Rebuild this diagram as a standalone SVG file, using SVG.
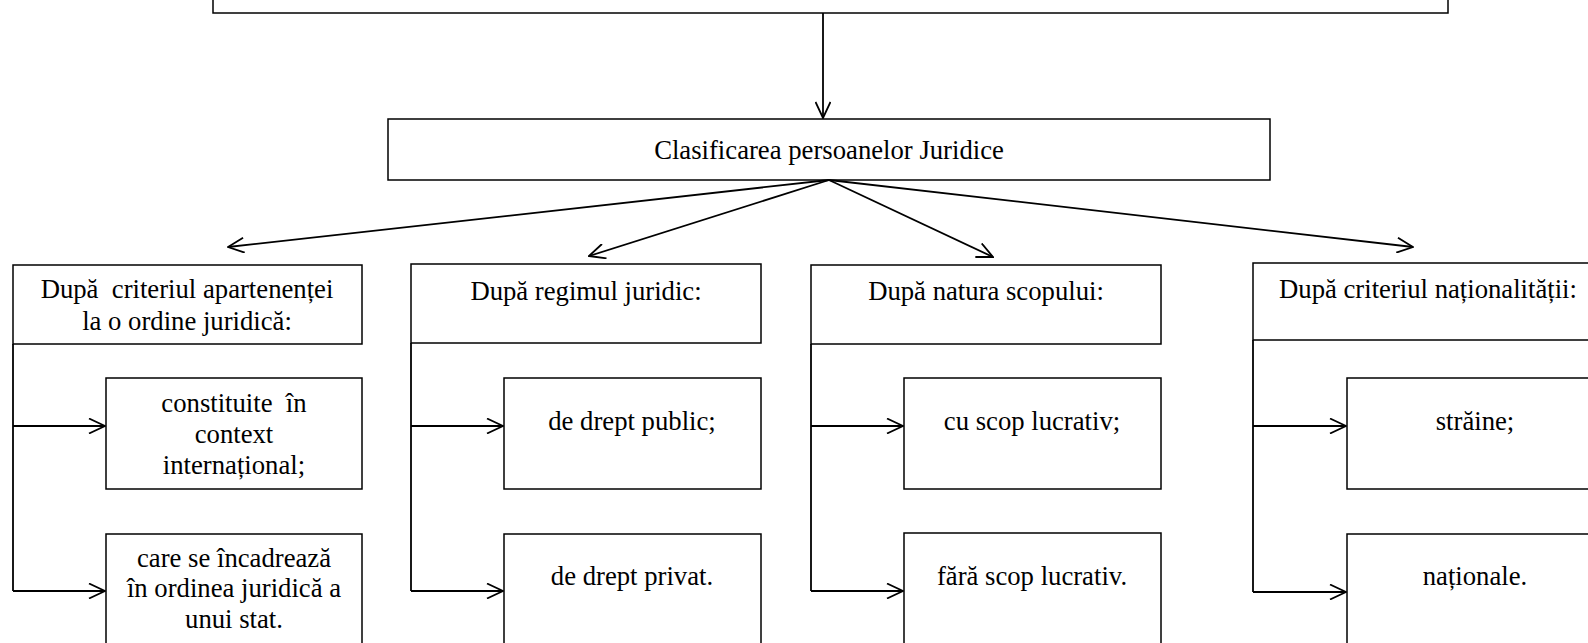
<svg xmlns="http://www.w3.org/2000/svg" width="1588" height="643" viewBox="0 0 1588 643">
<style>
.box{fill:#fff;stroke:#000;stroke-width:1.5}
.t{font-family:"Liberation Serif","Times New Roman",serif;font-size:26.7px;fill:#000;text-anchor:middle}
.c{fill:none;stroke:#000;stroke-width:1.8}
</style>
<defs>
<marker id="ah" viewBox="0 0 18 16" refX="17" refY="8" markerWidth="18" markerHeight="16" markerUnits="userSpaceOnUse" orient="auto">
<path d="M1,0.5 L17,8 L1,15.5" fill="none" stroke="#000" stroke-width="1.8"/>
</marker>
</defs>
<rect width="1588" height="643" fill="#fff"/>
<g id="top"><rect class="box" x="213" y="-30" width="1235" height="43"/></g>
<g id="root"><rect class="box" x="388" y="119" width="882" height="61"/><text class="t" x="829" y="159">Clasificarea persoanelor Juridice</text></g>
<g id="h1"><rect class="box" x="13" y="265" width="349" height="79"/><text class="t" x="187" y="298" xml:space="preserve">După  criteriul apartenenței</text><text class="t" x="187" y="330">la o ordine juridică:</text></g>
<g id="h2"><rect class="box" x="411" y="264" width="350" height="79"/><text class="t" x="586" y="300">După regimul juridic:</text></g>
<g id="h3"><rect class="box" x="811" y="265" width="350" height="79"/><text class="t" x="986" y="300">După natura scopului:</text></g>
<g id="h4"><rect class="box" x="1253" y="263" width="350" height="77"/><text class="t" x="1428" y="298">După criteriul naționalității:</text></g>
<g id="c11"><rect class="box" x="106" y="378" width="256" height="111"/><text class="t" x="234" y="412" xml:space="preserve">constituite  în</text><text class="t" x="234" y="443">context</text><text class="t" x="234" y="474">internațional;</text></g>
<g id="c12"><rect class="box" x="106" y="534" width="256" height="130"/><text class="t" x="234" y="567">care se încadrează</text><text class="t" x="234" y="597">în ordinea juridică a</text><text class="t" x="234" y="628">unui stat.</text></g>
<g id="c21"><rect class="box" x="504" y="378" width="257" height="111"/><text class="t" x="632" y="430">de drept public;</text></g>
<g id="c22"><rect class="box" x="504" y="534" width="257" height="130"/><text class="t" x="632" y="585">de drept privat.</text></g>
<g id="c31"><rect class="box" x="904" y="378" width="257" height="111"/><text class="t" x="1032" y="430">cu scop lucrativ;</text></g>
<g id="c32"><rect class="box" x="904" y="533" width="257" height="131"/><text class="t" x="1032" y="585">fără scop lucrativ.</text></g>
<g id="c41"><rect class="box" x="1347" y="378" width="257" height="111"/><text class="t" x="1475" y="430">străine;</text></g>
<g id="c42"><rect class="box" x="1347" y="534" width="257" height="130"/><text class="t" x="1475" y="585">naționale.</text></g>
<g id="connectors">
<line class="c" x1="823" y1="13" x2="823" y2="118" marker-end="url(#ah)"/>
<line class="c" x1="829" y1="180" x2="228" y2="247" marker-end="url(#ah)"/>
<line class="c" x1="829" y1="180" x2="589" y2="256" marker-end="url(#ah)"/>
<line class="c" x1="829" y1="180" x2="993" y2="257" marker-end="url(#ah)"/>
<line class="c" x1="829" y1="180" x2="1413" y2="247" marker-end="url(#ah)"/>
<path class="c" d="M13,344 V591"/>
<line class="c" x1="13" y1="426" x2="105" y2="426" marker-end="url(#ah)"/>
<line class="c" x1="13" y1="591" x2="105" y2="591" marker-end="url(#ah)"/>
<path class="c" d="M411,343 V591"/>
<line class="c" x1="411" y1="426" x2="503" y2="426" marker-end="url(#ah)"/>
<line class="c" x1="411" y1="591" x2="503" y2="591" marker-end="url(#ah)"/>
<path class="c" d="M811,344 V591"/>
<line class="c" x1="811" y1="426" x2="903" y2="426" marker-end="url(#ah)"/>
<line class="c" x1="811" y1="591" x2="903" y2="591" marker-end="url(#ah)"/>
<path class="c" d="M1253,340 V592"/>
<line class="c" x1="1253" y1="426" x2="1346" y2="426" marker-end="url(#ah)"/>
<line class="c" x1="1253" y1="592" x2="1346" y2="592" marker-end="url(#ah)"/>
</g>
</svg>
